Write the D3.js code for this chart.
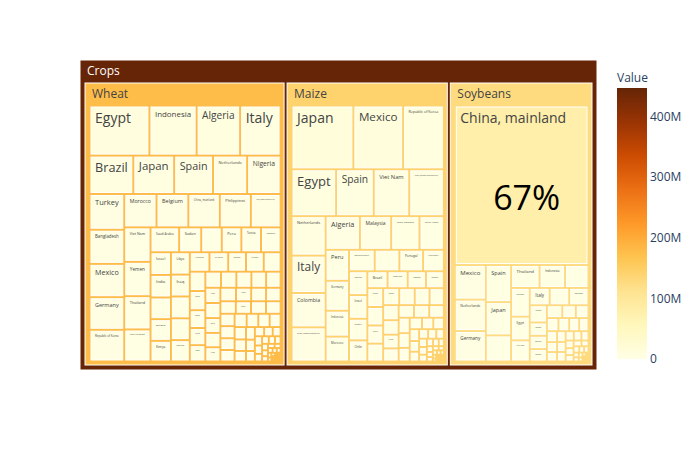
<!DOCTYPE html>
<html><head><meta charset="utf-8">
<script src="https://cdn.jsdelivr.net/npm/d3@7/dist/d3.min.js"></script>
<style>
body{margin:0;background:#fff}
svg{display:block}
text{font-family:"Open Sans",verdana,arial,sans-serif}
</style>
</head><body>
<svg id="chart" width="700" height="450"></svg>
<script>
// ---------- DATA (values in thousand tonnes) ----------
const rootLabel = "Crops";
const crops = ["Wheat", "Maize", "Soybeans"];

const wheatCountries = ["Egypt","Indonesia","Algeria","Italy","Brazil","Japan","Spain","Netherlands","Nigeria",
"Turkey","Bangladesh","Mexico","Germany","Republic of Korea",
"Morocco","Belgium","China, mainland","Philippines","Iran (Islamic Republic of)",
"Viet Nam","Yemen","Thailand","United Arab Emirates","Saudi Arabia",
"Sudan","United Kingdom of Great Britain and Northern Ireland","Peru","Tunisia","Colombia",
"Israel","India","Venezuela (Bolivarian Republic of)","Ethiopia","Kenya",
"Libya","Iraq","United States of America","China, Taiwan Province of","Portugal",
"Uzbekistan","Sri Lanka","Ecuador","Guatemala","Azerbaijan",
"Syrian Arab Republic","Jordan","Oman","Chile","Kuwait",
"South Africa","Afghanistan","Lebanon","Mozambique","Angola","Cuba","Dominican Republic","Qatar","Singapore","Ireland",
"Switzerland","Greece","Cameroon","Senegal","Côte d'Ivoire","Ghana","Norway","Austria","Georgia","Armenia",
"Tajikistan","Kyrgyzstan","Mongolia","Nepal","Myanmar","Cambodia","Madagascar","Mauritania","Djibouti","Somalia",
"Eritrea","Uganda","Rwanda","Zimbabwe","Zambia","Malawi","Benin","Togo","Haiti","Honduras",
"El Salvador","Nicaragua","Panama","Costa Rica","Jamaica","Bolivia","Uruguay","Paraguay","Mauritius","Fiji",
"New Zealand","Cyprus","Malta","Albania","Slovenia","Croatia","Latvia","Lithuania","Estonia","Denmark",
"Sweden","Finland","Iceland","Luxembourg","Brunei Darussalam","Maldives","Bhutan","Samoa"];
const wheatValues = [10880,8560,7900,7340,6100,5690,5410,4750,4650,
4500,4300,4200,4100,4000,3900,
3850,3800,3750,3600,
3278,3270,3161,3048,2588,
1989,1847,1774,1770,1765,
1672,1668,1602,1598,1529,
1525,1500,1496,1492,1460,
1383,1318,1248,1245,1183,
1095,1084,1004,971,920,
913,894,876,858,840,832,821,803,785,774,
767,748,730,712,694,686,675,657,639,621,
602,591,584,566,548,529,511,475,438,402,
365,336,310,285,263,241,219,201,183,168,
153,139,124,113,102,91,80,73,66,58,
51,44,37,33,29,26,22,18,15,14,
11,10,7,7,6,4,3,3];

const maizeCountries = ["Japan","Mexico","Republic of Korea","Egypt","Spain","Viet Nam","Iran (Islamic Republic of)",
"Netherlands","Italy","Colombia","China, Taiwan Province of",
"Algeria","Malaysia","China, mainland","Saudi Arabia",
"Peru","Germany","Indonesia","Morocco",
"Dominican Republic","United Kingdom of Great Britain and Northern Ireland","Portugal","Guatemala",
"Belgium","Israel","Turkey","Chile",
"Brazil","Costa Rica","Canada","Tunisia",
"Cuba","Venezuela (Bolivarian Republic of)","Kenya","Syrian Arab Republic","Jordan","Ecuador","Lebanon","Philippines","Thailand","Bangladesh",
"Ireland","Honduras","El Salvador","Nicaragua","Panama","South Africa","Zimbabwe","Senegal","Norway","Denmark",
"Greece","Austria","Kuwait","Oman","Qatar","United Arab Emirates","Yemen","Libya","Sri Lanka","Nepal",
"Jamaica","Haiti","Trinidad and Tobago","Bolivia","Uruguay","Cyprus","Malta","Slovenia","Croatia","Bosnia and Herzegovina",
"Albania","Georgia","Armenia","Azerbaijan","Uzbekistan","Mauritius","Botswana","Namibia","Zambia","Malawi",
"Mozambique","Angola","Brunei Darussalam","Fiji","Samoa"];
const maizeValues = [14490,11660,9542,7676,6470,6125,5951,
4927,4671,4304,4267,
4226,3858,3487,2998,
2660,2571,2222,2137,
2033,1955,1874,1636,
1614,1595,1465,1428,
1254,1250,1132,1113,
1094,1076,1057,1039,1002,965,928,890,853,816,
779,742,705,705,668,631,594,557,519,482,
445,408,371,341,312,282,260,237,215,193,
174,156,141,126,111,100,89,78,67,59,
52,45,37,33,30,26,22,19,15,11,
11,7,7,4,4];

const soyCountries = ["China, mainland","Mexico","Netherlands","Germany","Spain","Japan","China, Taiwan Province of",
"Thailand","Indonesia","Iran (Islamic Republic of)","Turkey","Egypt","Viet Nam","Italy",
"Republic of Korea","Bangladesh","Argentina","Pakistan","Belgium","Portugal","Russian Federation",
"Canada","Malaysia","Syrian Arab Republic","United Kingdom of Great Britain and Northern Ireland","Israel","Algeria","Morocco","Tunisia","Colombia","Peru",
"Costa Rica","Saudi Arabia","France","Greece","Austria","Romania","Ukraine","Philippines","India","Sri Lanka",
"Myanmar","Poland","Czechia","Hungary","Slovakia","Serbia","Bulgaria","Denmark","Finland","Norway",
"Switzerland","Ireland","Chile","Ecuador","Venezuela (Bolivarian Republic of)","Cuba","Sweden"];
const soyValues = [79100,3971,3617,3497,3480,3120,2447,
2413,2160,1990,1985,1637,1460,1284,
1261,1242,1092,847,847,787,730,
639,602,564,526,489,451,414,376,357,338,
320,301,282,263,244,226,207,188,169,150,
132,113,102,90,79,68,56,45,38,30,
23,19,15,11,8,7,4];

const cropCountries = [wheatCountries, maizeCountries, soyCountries];
const cropValues = [wheatValues, maizeValues, soyValues];

const highlightCrop = "Soybeans";
const highlightCountry = "China, mainland";
const highlightText = "67%";

const colorbarTitle = "Value";
const colorbarTicks = [0, 100000, 200000, 300000, 400000]; // thousand tonnes
const colorbarTickLabels = ["0", "100M", "200M", "300M", "400M"];
const ylorbr = ["#ffffe5","#fff7bc","#fee391","#fec44f","#fe9929","#ec7014","#cc4c02","#993404","#662506"];

// ---------- BUILD ----------
const data = {
  name: rootLabel,
  children: crops.map((c, i) => ({
    name: c,
    children: cropCountries[i].slice(0, cropValues[i].length).map((n, j) => ({name: n, value: cropValues[i][j]}))
  }))
};

const svg = d3.select("#chart");
const X0 = 80, Y0 = 60, W = 517, H = 310;

const root = d3.hierarchy(data).sum(d => d.value || 0).sort((a, b) => b.value - a.value);
d3.treemap()
  .tile(d3.treemapSquarify.ratio(1))
  .size([W, H])
  .paddingInner(3)
  .paddingTop(d => d.depth === 0 ? 23 : 24)
  .paddingLeft(d => d.depth === 0 ? 5 : 6)
  .paddingRight(5)
  .paddingBottom(5)(root);

const maxV = root.value;
const color = d3.scaleLinear()
  .domain(ylorbr.map((_, i) => i / (ylorbr.length - 1) * maxV))
  .range(ylorbr)
  .interpolate(d3.interpolateRgb);

const g = svg.append("g").attr("transform", `translate(${X0},${Y0})`);
const nodes = root.descendants();

const cell = g.selectAll("g.node").data(nodes).join("g").attr("class", "node");
cell.append("rect")
  .attr("x", d => d.x0).attr("y", d => d.y0)
  .attr("width", d => Math.max(0, d.x1 - d.x0))
  .attr("height", d => Math.max(0, d.y1 - d.y0))
  .attr("fill", d => color(d.value))
  .attr("stroke", "#ffffff")
  .attr("stroke-width", 1);

// labels
cell.each(function(d) {
  const sel = d3.select(this);
  const w = d.x1 - d.x0, h = d.y1 - d.y0;
  const bg = d3.hsl(color(d.value));
  const fill = bg.l < 0.45 ? "#ffffff" : "#444444";
  if (d.children) {
    sel.append("text")
      .attr("x", d.x0 + 7).attr("y", d.y0 + 14.5)
      .attr("font-size", 12).attr("fill", fill)
      .text(d.data.name);
  } else {
    const t = sel.append("text").attr("font-size", 14).attr("fill", fill).text(d.data.name);
    const tw = t.node().getComputedTextLength();
    let fs = Math.min(14, 14 * (w - 8) / tw, (h - 4) / 1.15);
    if (fs < 1.2) { t.remove(); return; }
    t.attr("font-size", fs).attr("x", d.x0 + 4).attr("y", d.y0 + 3 + fs * 0.9);
    if (d.parent.data.name === highlightCrop && d.data.name === highlightCountry) {
      sel.append("text")
        .attr("x", (d.x0 + d.x1) / 2 + 5).attr("y", (d.y0 + d.y1) / 2 + 25)
        .attr("text-anchor", "middle").attr("font-size", 34).attr("fill", "#000")
        .text(highlightText);
    }
  }
});

// ---------- COLORBAR ----------
const cbX = 617, cbW = 30, cbTop = 88, cbBot = 359;
const defs = svg.append("defs");
const grad = defs.append("linearGradient").attr("id", "cbgrad")
  .attr("x1", 0).attr("y1", 1).attr("x2", 0).attr("y2", 0);
ylorbr.forEach((c, i) => grad.append("stop").attr("offset", i / (ylorbr.length - 1)).attr("stop-color", c));
svg.append("rect").attr("x", cbX).attr("y", cbTop).attr("width", cbW).attr("height", cbBot - cbTop)
  .attr("fill", "url(#cbgrad)");
const cy = d3.scaleLinear().domain([0, maxV]).range([cbBot, cbTop]);
svg.append("g").selectAll("text").data(colorbarTicks).join("text")
  .attr("x", cbX + cbW + 3).attr("y", d => cy(d)).attr("dy", "0.35em")
  .attr("font-size", 12).attr("fill", "#2a3f5f")
  .text((d, i) => colorbarTickLabels[i]);
svg.append("text").attr("x", cbX).attr("y", 82).attr("font-size", 12).attr("fill", "#2a3f5f").text(colorbarTitle);
</script>
</body></html>
